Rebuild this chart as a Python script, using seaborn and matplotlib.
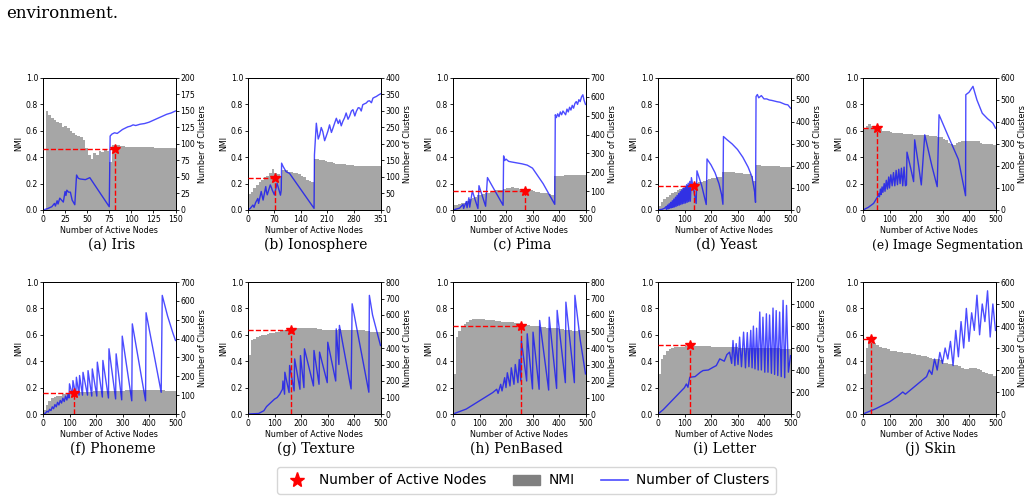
import numpy as np
import pandas as pd
import matplotlib
matplotlib.use('Agg')
import matplotlib.pyplot as plt
from matplotlib.lines import Line2D
from matplotlib.patches import Patch
import seaborn as sns

SET_DPI = 100
FIGSIZE = (10.36, 5.0)
W, H = 1036, 500

# ---- data ----
# NMI bars, one value per bin of width STEP
IRIS_NMI = [0.0, 0.75, 0.72, 0.70, 0.68, 0.67, 0.66, 0.63, 0.64, 0.62,
            0.60, 0.58, 0.57, 0.56, 0.55, 0.53, 0.47, 0.42, 0.39, 0.43,
            0.42, 0.45, 0.44, 0.46, 0.45, 0.36, 0.49, 0.49, 0.49, 0.485,
            0.485, 0.48, 0.48, 0.48, 0.478, 0.478, 0.476, 0.476, 0.475, 0.475,
            0.474, 0.474, 0.473, 0.473, 0.472, 0.472, 0.471, 0.471, 0.47, 0.47]
IONO_NMI = [0.12, 0.14, 0.17, 0.19, 0.21, 0.23, 0.25, 0.26, 0.28, 0.31,
            0.28, 0.27, 0.26, 0.30, 0.30, 0.29, 0.29, 0.28, 0.28, 0.27,
            0.26, 0.25, 0.23, 0.22, 0.21, 0.39, 0.385, 0.38, 0.375, 0.37,
            0.365, 0.36, 0.355, 0.35, 0.35, 0.345, 0.345, 0.34, 0.34, 0.338,
            0.335, 0.335, 0.335, 0.335, 0.335, 0.335, 0.335, 0.335, 0.335, 0.335,
            0.335]
PIMA_NMI = [0.04, 0.04, 0.045, 0.05, 0.055, 0.07, 0.08, 0.09, 0.10, 0.11,
            0.11, 0.12, 0.13, 0.13, 0.14, 0.14, 0.15, 0.15, 0.155, 0.16,
            0.165, 0.17, 0.175, 0.17, 0.165, 0.16, 0.16, 0.155, 0.155, 0.15,
            0.145, 0.14, 0.135, 0.13, 0.13, 0.125, 0.12, 0.115, 0.26, 0.26,
            0.26, 0.26, 0.265, 0.265, 0.265, 0.265, 0.265, 0.265, 0.265, 0.265]
YEAST_NMI = [0.03, 0.06, 0.08, 0.10, 0.11, 0.13, 0.14, 0.15, 0.16, 0.17,
             0.18, 0.19, 0.195, 0.20, 0.205, 0.21, 0.215, 0.22, 0.23, 0.235,
             0.24, 0.245, 0.25, 0.25, 0.29, 0.29, 0.29, 0.285, 0.285, 0.28,
             0.28, 0.28, 0.275, 0.27, 0.27, 0.26, 0.22, 0.34, 0.34, 0.335,
             0.335, 0.333, 0.333, 0.33, 0.33, 0.33, 0.328, 0.328, 0.325, 0.325]
IMSEG_NMI = [0.62, 0.64, 0.65, 0.64, 0.63, 0.62, 0.61, 0.60, 0.60, 0.595,
             0.59, 0.585, 0.585, 0.58, 0.58, 0.578, 0.575, 0.575, 0.572, 0.57,
             0.57, 0.568, 0.566, 0.565, 0.565, 0.563, 0.56, 0.56, 0.555, 0.55,
             0.54, 0.53, 0.51, 0.50, 0.49, 0.51, 0.515, 0.52, 0.52, 0.52,
             0.525, 0.52, 0.52, 0.52, 0.51, 0.50, 0.50, 0.50, 0.50, 0.495]
PHON_NMI = [0.03, 0.07, 0.10, 0.12, 0.13, 0.14, 0.14, 0.15, 0.15, 0.155,
            0.16, 0.16, 0.165, 0.165, 0.17, 0.17, 0.17, 0.17, 0.17, 0.172,
            0.172, 0.172, 0.173, 0.173, 0.174, 0.174, 0.175, 0.175, 0.175, 0.176,
            0.178, 0.18, 0.18, 0.18, 0.18, 0.18, 0.18, 0.18, 0.18, 0.18,
            0.18, 0.18, 0.18, 0.18, 0.18, 0.18, 0.178, 0.178, 0.178, 0.178]
TEXT_NMI = [0.45, 0.56, 0.57, 0.58, 0.59, 0.60, 0.60, 0.605, 0.61, 0.615,
            0.62, 0.625, 0.63, 0.635, 0.64, 0.64, 0.645, 0.65, 0.65, 0.65,
            0.655, 0.655, 0.65, 0.655, 0.65, 0.65, 0.645, 0.645, 0.64, 0.64,
            0.64, 0.64, 0.64, 0.64, 0.645, 0.64, 0.635, 0.635, 0.635, 0.635,
            0.635, 0.635, 0.635, 0.635, 0.63, 0.63, 0.625, 0.625, 0.62, 0.62]
PEN_NMI = [0.30, 0.58, 0.63, 0.66, 0.68, 0.70, 0.71, 0.72, 0.72, 0.72,
           0.72, 0.72, 0.715, 0.715, 0.71, 0.71, 0.705, 0.705, 0.70, 0.70,
           0.70, 0.695, 0.695, 0.69, 0.69, 0.69, 0.685, 0.68, 0.675, 0.67,
           0.67, 0.665, 0.665, 0.66, 0.66, 0.655, 0.655, 0.65, 0.65, 0.65,
           0.645, 0.645, 0.64, 0.64, 0.635, 0.63, 0.63, 0.635, 0.64, 0.64]
LETTER_NMI = [0.30, 0.42, 0.45, 0.48, 0.49, 0.50, 0.505, 0.51, 0.51, 0.51,
              0.515, 0.515, 0.515, 0.515, 0.515, 0.515, 0.515, 0.515, 0.515, 0.515,
              0.51, 0.51, 0.51, 0.51, 0.508, 0.508, 0.506, 0.506, 0.505, 0.505,
              0.50, 0.50, 0.50, 0.50, 0.50, 0.50, 0.50, 0.50, 0.50, 0.50,
              0.50, 0.50, 0.498, 0.498, 0.497, 0.497, 0.496, 0.496, 0.495, 0.495]
SKIN_NMI = [0.30, 0.50, 0.55, 0.56, 0.54, 0.52, 0.51, 0.50, 0.50, 0.49,
            0.48, 0.48, 0.475, 0.47, 0.47, 0.465, 0.46, 0.46, 0.455, 0.455,
            0.45, 0.445, 0.44, 0.44, 0.43, 0.425, 0.42, 0.42, 0.415, 0.41,
            0.39, 0.385, 0.38, 0.38, 0.375, 0.37, 0.36, 0.35, 0.34, 0.34,
            0.35, 0.35, 0.345, 0.34, 0.33, 0.32, 0.31, 0.30, 0.30, 0.29]

# number-of-clusters curves (vertices)
IRIS_CX = [0, 5, 10, 13, 14, 16, 17, 19, 21, 23, 25, 26, 27, 29, 31, 33, 36, 38, 40, 42,
           48, 53, 75, 76, 78, 81, 84, 87, 90, 93, 96, 99, 102, 105, 110, 115, 120, 125,
           130, 135, 140, 145, 150]
IRIS_CY = [0, 2, 5, 10, 6, 14, 9, 18, 15, 12, 28, 22, 30, 27, 27, 15, 8, 53, 48, 47,
           46, 49, 5, 112, 115, 117, 116, 119, 122, 124, 126, 127, 129, 128, 130, 131, 133, 136,
           139, 142, 145, 147, 150]
IONO_CX = [0, 6, 13, 16, 20, 26, 28, 35, 38, 40, 47, 49, 51, 59, 62, 64, 70, 77, 86, 88,
           89, 93, 101, 110, 175, 176, 181, 186, 190, 194, 198, 203, 207, 212, 216, 221, 225,
           230, 234, 239, 243, 247, 251, 256, 260, 265, 269, 274, 278, 283, 287, 292, 296,
           300, 304, 309, 313, 318, 322, 327, 331, 336, 340, 345, 351]
IONO_CY = [0, 5, 15, 8, 22, 35, 20, 56, 40, 30, 71, 55, 46, 76, 68, 61, 46, 81, 45, 60,
           142, 132, 116, 111, 5, 167, 263, 215, 228, 250, 238, 210, 223, 240, 258, 235, 248,
           265, 278, 262, 273, 255, 268, 280, 294, 275, 284, 300, 304, 285, 299, 310, 309,
           300, 319, 322, 324, 330, 331, 325, 339, 342, 344, 348, 352]
PIMA_CX = [0, 25, 38, 40, 50, 53, 60, 63, 73, 94, 98, 123, 130, 189, 191, 195, 200, 210,
           220, 240, 260, 280, 300, 340, 384, 386, 390, 395, 400, 405, 410, 415, 420, 425,
           430, 435, 440, 445, 450, 455, 460, 465, 470, 475, 480, 485, 490, 495, 500]
PIMA_CY = [0, 10, 30, 8, 45, 12, 65, 15, 101, 8, 129, 20, 172, 25, 287, 262, 270, 258,
           255, 250, 245, 238, 222, 140, 30, 505, 490, 510, 495, 520, 505, 525, 515, 505,
           535, 520, 545, 530, 555, 540, 565, 575, 560, 585, 575, 600, 611, 580, 560]
YEAST_CX = [0, 15, 25, 30, 32, 36, 38, 42, 44, 48, 50, 54, 56, 60, 62, 66, 68, 72, 74, 78,
            80, 84, 86, 90, 92, 96, 98, 102, 104, 108, 110, 114, 116, 120, 122, 126, 144,
            147, 165, 182, 185, 200, 215, 230, 240, 245, 247, 260, 280, 300, 320, 340, 355,
            365, 368, 370, 375, 380, 390, 400, 410, 420, 430, 440, 450, 460, 470, 480, 490,
            500]
YEAST_CY = [0, 3, 8, 15, 3, 22, 5, 28, 8, 35, 10, 42, 12, 50, 14, 58, 16, 66, 20, 75,
            22, 84, 25, 92, 28, 100, 30, 108, 32, 115, 35, 122, 38, 130, 40, 147, 30,
            178, 110, 25, 232, 205, 170, 120, 70, 26, 334, 320, 300, 275, 240, 195, 150,
            80, 35, 516, 525, 510, 520, 505, 505, 500, 498, 495, 492, 490, 485, 480, 478,
            463]
IMSEG_CX = [0, 20, 40, 50, 55, 60, 62, 66, 68, 72, 75, 80, 83, 88, 92, 97, 100, 105, 110,
            115, 120, 125, 130, 135, 140, 145, 150, 155, 160, 164, 166, 180, 191, 195, 210,
            220, 233, 260, 280, 287, 320, 360, 387, 388, 400, 415, 430, 450, 470, 490, 500]
IMSEG_CY = [0, 12, 30, 50, 60, 75, 60, 95, 70, 105, 80, 120, 85, 135, 95, 150, 100, 160, 110,
            170, 110, 180, 115, 185, 120, 190, 110, 195, 110, 114, 263, 190, 129, 319, 200,
            114, 342, 200, 106, 433, 340, 230, 65, 524, 535, 562, 500, 440, 415, 395, 372]
PHON_CX = [0, 10, 15, 20, 25, 30, 35, 40, 45, 50, 55, 60, 65, 70, 75, 80, 85, 90, 95, 98,
           100, 111, 113, 124, 126, 136, 138, 149, 151, 168, 170, 184, 186, 203, 205, 224,
           226, 247, 249, 274, 276, 297, 299, 335, 337, 387, 389, 446, 450, 470, 490, 500]
PHON_CY = [0, 5, 15, 10, 25, 18, 38, 28, 50, 38, 62, 48, 72, 58, 84, 66, 95, 74, 108, 85,
           160, 100, 177, 100, 195, 100, 204, 100, 221, 100, 230, 95, 239, 95, 275, 90,
           284, 85, 346, 80, 319, 75, 413, 70, 478, 70, 537, 115, 629, 520, 430, 390]
TEXT_CX = [0, 40, 60, 70, 80, 90, 100, 110, 120, 130, 132, 138, 139, 155, 157, 174, 176,
           196, 198, 211, 213, 247, 249, 268, 270, 299, 301, 331, 333, 343, 345, 389, 393,
           456, 458, 470, 500]
TEXT_CY = [0, 3, 20, 45, 60, 75, 90, 100, 120, 150, 200, 120, 253, 130, 294, 140, 334,
           150, 354, 160, 395, 170, 385, 180, 375, 190, 435, 200, 516, 300, 537, 152, 668,
           132, 719, 600, 415]
PEN_CX = [0, 25, 50, 75, 100, 125, 150, 165, 170, 180, 185, 195, 200, 205, 215, 220, 230,
          235, 245, 250, 256, 258, 278, 280, 300, 302, 325, 327, 361, 363, 391, 393, 424,
          426, 458, 460, 480, 500]
PEN_CY = [0, 15, 30, 55, 80, 105, 130, 150, 125, 180, 140, 220, 160, 250, 170, 280, 180,
          300, 190, 330, 200, 445, 200, 486, 152, 496, 150, 567, 145, 587, 155, 628, 190,
          678, 190, 719, 450, 243]
LETTER_CX = [0, 20, 40, 60, 80, 100, 107, 113, 120, 140, 160, 170, 190, 208, 220, 233, 250,
             260, 270, 278, 283, 290, 295, 302, 308, 315, 323, 330, 337, 343, 350, 355, 360,
             366, 372, 378, 384, 390, 396, 403, 409, 415, 421, 428, 434, 440, 446, 452, 459,
             465, 472, 478, 485, 492, 500]
LETTER_CY = [0, 40, 90, 140, 190, 240, 273, 243, 334, 340, 380, 395, 400, 425, 440, 501, 480,
             540, 562, 460, 668, 440, 640, 450, 699, 430, 744, 420, 740, 430, 760, 420, 799,
             410, 780, 400, 927, 400, 880, 380, 911, 380, 900, 370, 963, 360, 940, 350, 927,
             340, 1033, 330, 987, 380, 530]
SKIN_CX = [0, 50, 100, 130, 150, 160, 180, 200, 220, 240, 250, 260, 270, 280, 290, 300, 310,
           320, 330, 340, 350, 360, 370, 380, 390, 400, 410, 420, 430, 440, 450, 460, 470,
           480, 490, 500]
SKIN_CY = [0, 25, 55, 80, 100, 90, 110, 130, 150, 170, 200, 180, 250, 200, 280, 230, 300,
           250, 330, 220, 380, 260, 420, 300, 480, 330, 460, 380, 540, 360, 500, 420, 560,
           350, 500, 380]

# star (number of active nodes chosen) and its NMI
STAR_X = [82, 72, 272, 135, 52, 118, 162, 255, 120, 32]
STAR_NMI = [0.46, 0.245, 0.145, 0.185, 0.62, 0.16, 0.635, 0.665, 0.52, 0.565]

CAPTIONS = ['(a) Iris', '(b) Ionosphere', '(c) Pima', '(d) Yeast', '(e) Image Segmentation',
            '(f) Phoneme', '(g) Texture', '(h) PenBased', '(i) Letter', '(j) Skin']
XMAX = [150, 351, 500, 500, 500, 500, 500, 500, 500, 500]
STEP = [3, 7, 10, 10, 10, 10, 10, 10, 10, 10]
CL_MAX = [200, 400, 700, 600, 600, 700, 800, 800, 1200, 600]
CL_STEP = [25, 50, 100, 100, 100, 100, 100, 100, 200, 100]
XTICKS = [[0, 25, 50, 75, 100, 125, 150], [0, 70, 140, 210, 280, 351]] + \
         [[0, 100, 200, 300, 400, 500]] * 8

NMI_LIST = [IRIS_NMI, IONO_NMI, PIMA_NMI, YEAST_NMI, IMSEG_NMI,
            PHON_NMI, TEXT_NMI, PEN_NMI, LETTER_NMI, SKIN_NMI]
CX_LIST = [IRIS_CX, IONO_CX, PIMA_CX, YEAST_CX, IMSEG_CX,
           PHON_CX, TEXT_CX, PEN_CX, LETTER_CX, SKIN_CX]
CY_LIST = [IRIS_CY, IONO_CY, PIMA_CY, YEAST_CY, IMSEG_CY,
           PHON_CY, TEXT_CY, PEN_CY, LETTER_CY, SKIN_CY]

# ---- layout (pixels) ----
COL_LEFT = [43, 248, 453, 658, 863]
ROW_TOP = [78, 282]
AX_W, AX_H = 132.5, 132
CAP_X = [112, 316, 522, 727, 948, 113, 316, 516, 725, 930]
CAP_Y = [245, 449]
CAP_FS = [10, 10, 10, 10, 8.8, 10, 10, 10, 10, 10]

LAB_FS = 5.8
TICK_FS = 5.6
BLUE = 'blue'
SERIF = 'DejaVu Serif'

fig = plt.figure(figsize=FIGSIZE, dpi=SET_DPI)

for i in range(10):
    row, col = divmod(i, 5)
    left = COL_LEFT[col] / W
    bottom = 1 - (ROW_TOP[row] + AX_H) / H
    ax = fig.add_axes([left, bottom, AX_W / W, AX_H / H])

    step = STEP[i]
    nmi = list(NMI_LIST[i])
    edges = [k * step for k in range(len(nmi) + 1)]
    bars = pd.DataFrame({'node': [e + step / 2 for e in edges[:-1]], 'nmi': nmi})
    sns.histplot(data=bars, x='node', weights='nmi', bins=edges, ax=ax,
                 color='gray', alpha=0.7, linewidth=0, element='bars')

    ax2 = ax.twinx()
    curve = pd.DataFrame({'node': CX_LIST[i], 'clusters': CY_LIST[i]})
    sns.lineplot(data=curve, x='node', y='clusters', ax=ax2, color=BLUE,
                 alpha=0.7, linewidth=1.0, sort=False, estimator=None)

    # red marker + guide lines, in NMI units
    sx, sn = STAR_X[i], STAR_NMI[i]
    ax2.plot([0, sx], [sn, sn], color='red', ls='--', lw=1.0,
             transform=ax.transData, zorder=5)
    ax2.plot([sx, sx], [0, sn], color='red', ls='--', lw=1.0,
             transform=ax.transData, zorder=5)
    ax2.plot([sx], [sn], marker='*', color='red', ms=7, ls='none',
             transform=ax.transData, zorder=6)

    ax.set_xlim(0, XMAX[i])
    ax.set_ylim(0, 1)
    ax.set_xticks(XTICKS[i])
    ax.set_yticks(np.arange(0, 1.01, 0.2))
    ax2.set_ylim(0, CL_MAX[i])
    ax2.set_yticks(np.arange(0, CL_MAX[i] + 1, CL_STEP[i]))

    ax.set_xlabel('Number of Active Nodes', fontsize=LAB_FS, labelpad=1.5)
    ax.set_ylabel('NMI', fontsize=LAB_FS, labelpad=2)
    ax2.set_ylabel('Number of Clusters', fontsize=LAB_FS, labelpad=2)
    for a in (ax, ax2):
        a.tick_params(labelsize=TICK_FS, length=2, width=0.6, pad=1.5)
        for sp in a.spines.values():
            sp.set_linewidth(0.7)

    fig.text(CAP_X[i] / W, 1 - CAP_Y[row] / H, CAPTIONS[i], family=SERIF,
             fontsize=CAP_FS[i], ha='center', va='center')

fig.text(6 / W, 1 - 14 / H, 'environment.', family=SERIF,
         fontsize=12, ha='left', va='center')

handles = [Line2D([], [], marker='*', color='red', ls='none', ms=11),
           Patch(color='#808080'),
           Line2D([], [], color=BLUE, alpha=0.7, lw=1.2)]
labels = ['Number of Active Nodes', 'NMI', 'Number of Clusters']
fig.legend(handles, labels, loc='center', ncol=3, fontsize=9.9,
           bbox_to_anchor=(526.5 / W, 1 - 480.5 / H), columnspacing=1.9,
           handlelength=2.0, borderpad=0.45, handletextpad=0.6, frameon=True)

fig.savefig('out.png', dpi=SET_DPI)
